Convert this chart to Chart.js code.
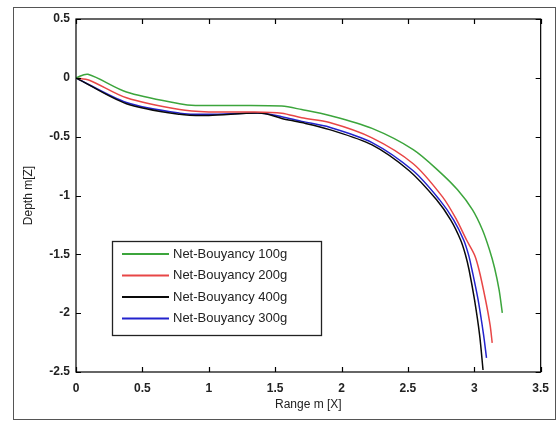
<!DOCTYPE html>
<html>
<head>
<meta charset="utf-8">
<script src="https://cdn.jsdelivr.net/npm/chart.js@4.4.0/dist/chart.umd.min.js"></script>
<style>
  html, body { margin: 0; padding: 0; background: #fff; }
  #wrap { width: 558px; height: 421px; }
</style>
</head>
<body>
<div id="wrap"><canvas id="grafico" width="558" height="421"></canvas></div>
<script>
// datos
const etiquetas = ['Net-Bouyancy 100g', 'Net-Bouyancy 200g', 'Net-Bouyancy 400g', 'Net-Bouyancy 300g'];
const colores = ['rgb(60,165,60)', 'rgb(232,70,70)', 'rgb(10,10,10)', 'rgb(35,35,205)'];

const x100 = [0, 0.09, 0.38, 0.78, 0.9, 1.2, 1.55, 1.7, 1.91, 2.23, 2.54, 2.739, 2.874, 2.987, 3.062, 3.115, 3.153, 3.187, 3.211];
const y100 = [0, 0.03, -0.12, -0.22, -0.235, -0.235, -0.24, -0.27, -0.32, -0.43, -0.61, -0.799, -0.952, -1.122, -1.293, -1.463, -1.616, -1.803, -1.998];

const x200 = [0, 0.1, 0.38, 0.78, 1.0, 1.3, 1.55, 1.7, 1.91, 2.23, 2.54, 2.761, 2.867, 2.942, 3.002, 3.036, 3.085, 3.119, 3.135];
const y200 = [0, -0.02, -0.17, -0.27, -0.29, -0.29, -0.30, -0.34, -0.38, -0.51, -0.73, -1.012, -1.207, -1.378, -1.505, -1.633, -1.888, -2.100, -2.253];

const x400 = [0, 0.38, 0.78, 1.0, 1.4, 1.55, 1.7, 1.91, 2.23, 2.51, 2.716, 2.822, 2.897, 2.934, 2.961, 3.002, 3.040, 3.066];
const y400 = [0, -0.22, -0.31, -0.32, -0.30, -0.345, -0.38, -0.44, -0.57, -0.79, -1.037, -1.207, -1.378, -1.505, -1.633, -1.888, -2.185, -2.483];

const x300 = [0, 0.38, 0.78, 1.0, 1.4, 1.55, 1.7, 1.91, 2.23, 2.54, 2.739, 2.844, 2.920, 2.957, 2.983, 3.029, 3.070, 3.092];
const y300 = [0, -0.21, -0.30, -0.31, -0.30, -0.33, -0.37, -0.42, -0.55, -0.79, -1.037, -1.207, -1.378, -1.505, -1.633, -1.888, -2.185, -2.38];

const ticksX = [0, 0.5, 1, 1.5, 2, 2.5, 3, 3.5];
const ticksY = [0.5, 0, -0.5, -1, -1.5, -2, -2.5];

function puntos(xs, ys) {
    return xs.map((v, i) => ({ x: v, y: ys[i] }));
}

const series = [[x100, y100], [x200, y200], [x400, y400], [x300, y300]];

// marco exterior, caja de ejes con ticks hacia dentro y leyenda
const marcoPlugin = {
    id: 'marco',
    beforeDraw(chart) {
        const c = chart.ctx;
        c.save();
        c.strokeStyle = '#555';
        c.lineWidth = 1;
        c.strokeRect(13.5, 7.5, 542, 412);
        c.restore();
    },
    afterDraw(chart) {
        const c = chart.ctx;
        const a = chart.chartArea;
        const sx = chart.scales.x, sy = chart.scales.y;
        c.save();
        c.strokeStyle = '#000';
        c.lineWidth = 1.2;
        c.strokeRect(a.left, a.top, a.right - a.left, a.bottom - a.top);
        c.beginPath();
        ticksX.forEach(t => {
            const px = Math.round(sx.getPixelForValue(t)) + 0.5;
            c.moveTo(px, a.bottom); c.lineTo(px, a.bottom - 5);
            c.moveTo(px, a.top); c.lineTo(px, a.top + 5);
        });
        ticksY.forEach(t => {
            const py = Math.round(sy.getPixelForValue(t)) + 0.5;
            c.moveTo(a.left, py); c.lineTo(a.left + 5, py);
            c.moveTo(a.right, py); c.lineTo(a.right - 5, py);
        });
        c.stroke();

        // leyenda
        const lx = a.left + 36, ly = a.bottom - 131;
        const w = 209, h = 94;
        c.fillStyle = '#fff';
        c.fillRect(lx, ly, w, h);
        c.strokeStyle = '#222';
        c.lineWidth = 1.3;
        c.strokeRect(lx + 0.5, ly + 0.5, w, h);
        c.font = '13px "Liberation Sans", Arial, sans-serif';
        c.textBaseline = 'middle';
        chart.data.datasets.forEach((ds, i) => {
            const yy = ly + 13 + i * 21.5;
            c.strokeStyle = ds.borderColor;
            c.lineWidth = ds.borderWidth + 0.5;
            c.beginPath();
            c.moveTo(lx + 10, yy); c.lineTo(lx + 57, yy);
            c.stroke();
            c.fillStyle = '#222';
            c.fillText(ds.label, lx + 61, yy);
        });
        c.restore();
    }
};

const fuenteTicks = { family: '"Liberation Sans", Arial, sans-serif', size: 12, weight: 'bold' };
const fuenteTitulo = { family: '"Liberation Sans", Arial, sans-serif', size: 12 };

const ctx = document.getElementById('grafico').getContext('2d');
const grafico = new Chart(ctx, {
    type: 'scatter',
    data: {
        datasets: series.map((s, i) => ({
            label: etiquetas[i],
            data: puntos(s[0], s[1]),
            showLine: true,
            borderColor: colores[i],
            backgroundColor: colores[i],
            borderWidth: 1.5,
            pointRadius: 0,
            tension: 0.3
        }))
    },
    options: {
        responsive: false,
        animation: false,
        layout: { padding: { left: 0, right: 17, top: 19, bottom: 0 } },
        plugins: {
            legend: { display: false },
            tooltip: { enabled: false }
        },
        scales: {
            x: {
                type: 'linear',
                min: 0, max: 3.5,
                afterBuildTicks: s => { s.ticks = ticksX.map(v => ({ value: v })); },
                afterFit: s => { s.height = 49; },
                grid: { display: false, drawTicks: false },
                border: { display: false },
                ticks: {
                    padding: 9,
                    color: '#222',
                    font: fuenteTicks,
                    maxRotation: 0,
                    callback: v => String(v)
                },
                title: {
                    display: true,
                    text: 'Range m [X]',
                    color: '#222',
                    padding: { top: 0, bottom: 9 },
                    font: fuenteTitulo
                }
            },
            y: {
                type: 'linear',
                min: -2.5, max: 0.5,
                afterBuildTicks: s => { s.ticks = ticksY.map(v => ({ value: v })); },
                afterFit: s => { s.width = 76; },
                grid: { display: false, drawTicks: false },
                border: { display: false },
                ticks: {
                    padding: 6,
                    color: '#222',
                    font: fuenteTicks,
                    callback: v => String(v)
                },
                title: {
                    display: true,
                    text: 'Depth m[Z]',
                    color: '#222',
                    padding: { top: 21, bottom: 0 },
                    font: fuenteTitulo
                }
            }
        }
    },
    plugins: [marcoPlugin]
});
</script>
</body>
</html>
